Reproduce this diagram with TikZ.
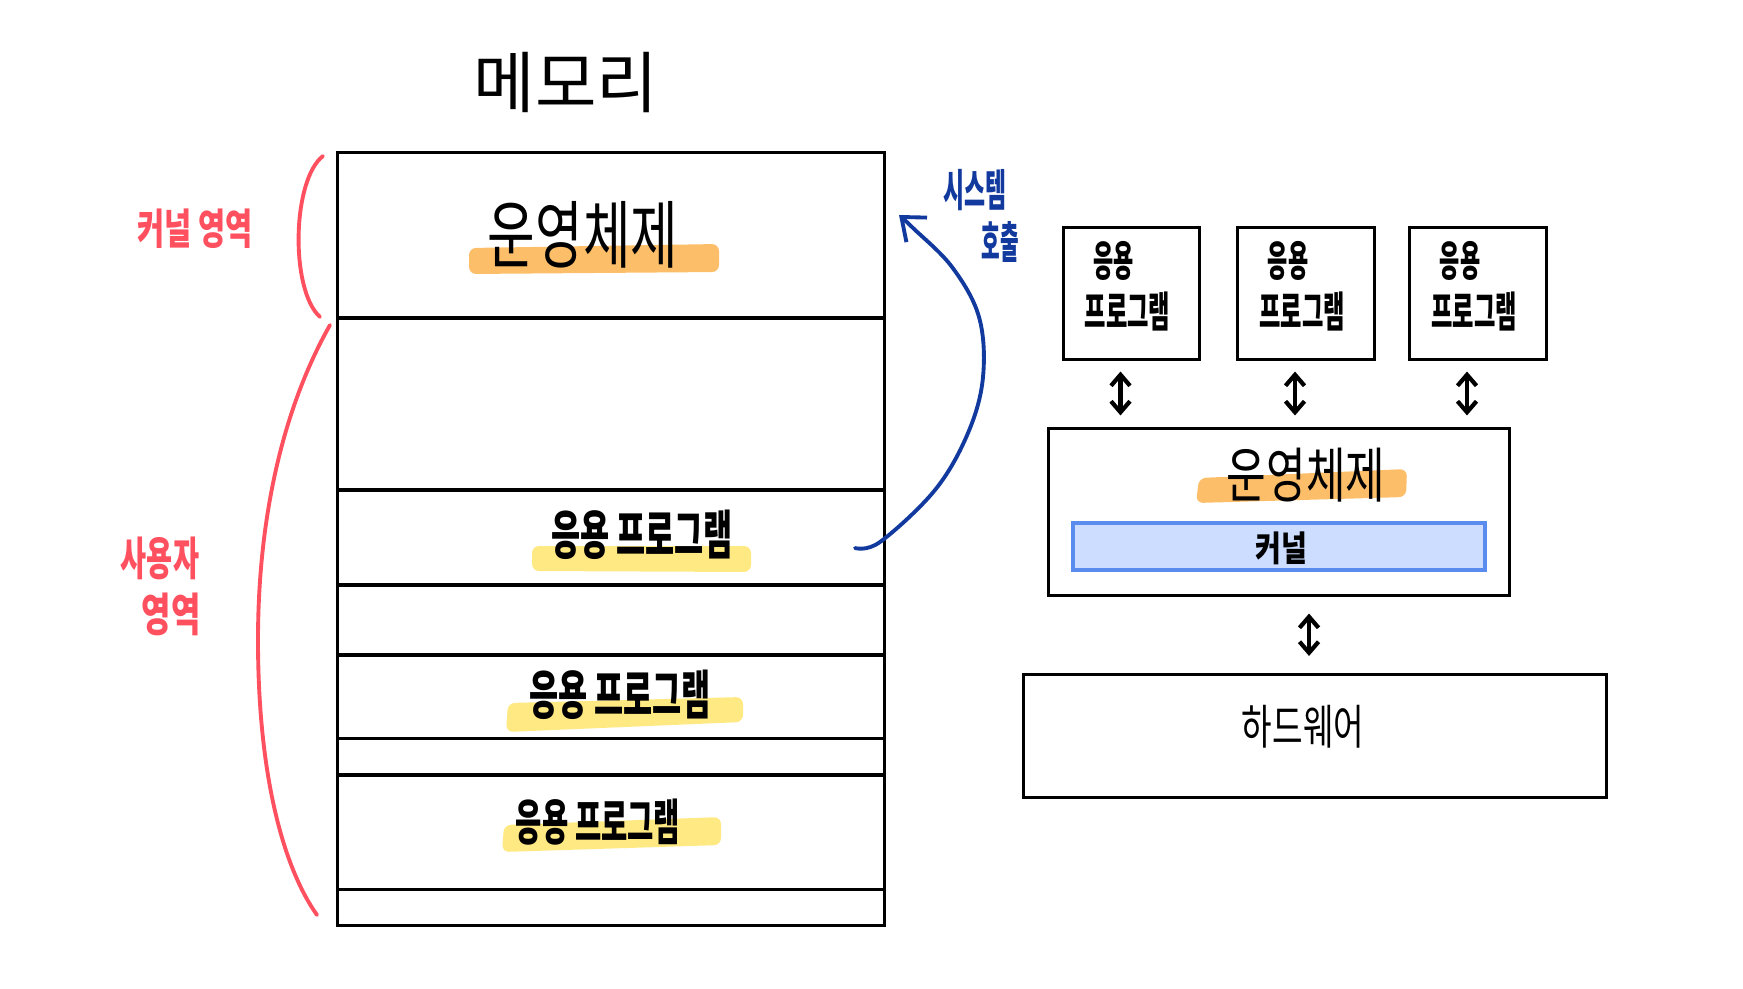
\documentclass[tikz,border=0pt]{standalone}
\usepackage{fontspec}
\newfontfamily\kr{Noto Sans CJK KR}
\usetikzlibrary{arrows.meta}
\definecolor{hlor}{RGB}{253,190,105}
\definecolor{hlye}{RGB}{255,233,130}
\definecolor{redpen}{RGB}{255,80,95}
\definecolor{bluepen}{RGB}{18,58,158}
\definecolor{kfill}{RGB}{204,221,255}
\definecolor{kline}{RGB}{90,140,240}
\newcommand\sx[2]{\scalebox{#1}[1]{#2}}
\tikzset{
  box/.style={draw, line width=0.85pt, inner sep=0, fill=none},
  txt/.style={inner sep=0},
  hl/.style={rounded corners=2pt},
  dbl/.style={line width=1.2pt, line cap=round, {Straight Barb[length=1.1mm,width=1.9mm]}-{Straight Barb[length=1.1mm,width=1.9mm]}},
  redcurve/.style={draw=redpen, line width=1.1pt, line cap=round},
}
\begin{document}
\begin{tikzpicture}[x=0.01cm,y=-0.01cm]
\useasboundingbox (0,0) rectangle (1743,988);

% title
\node[txt, font=\kr\fontsize{19pt}{22pt}\selectfont] (title) at (566,83) {메모리};

% highlights (memory)
\fill[hlor, hl] (469,248) -- (719,244) -- (719,272) -- (469,274) -- cycle;
\fill[hlye, hl] (532,546) -- (751,546) -- (751,572) -- (532,571) -- cycle;
\fill[hlye, hl] (508,703) -- (743,697) -- (743,722) -- (506,732) -- cycle;
\fill[hlye, hl] (504,825) -- (721,817) -- (721,845) -- (502,852) -- cycle;

% memory sections
\node[box, minimum width=5.46cm, minimum height=1.65cm] (s1) at (611,235.5) {};
\node[box, minimum width=5.46cm, minimum height=1.72cm] (s2) at (611,404) {};
\node[box, minimum width=5.46cm, minimum height=0.95cm] (s3) at (611,537.5) {};
\node[box, minimum width=5.46cm, minimum height=0.70cm] (s4) at (611,620) {};
\node[box, minimum width=5.46cm, minimum height=0.83cm] (s5) at (611,696.5) {};
\node[box, minimum width=5.46cm, minimum height=0.37cm] (s6) at (611,756.5) {};
\node[box, minimum width=5.46cm, minimum height=1.14cm] (s7) at (611,832) {};
\node[box, minimum width=5.46cm, minimum height=0.36cm] (s8) at (611,907) {};

\node[txt, font=\kr\fontsize{21pt}{24pt}\selectfont] (os1) at (583,235) {\sx{0.7}{운영체제}};
\node[txt, font=\kr\bfseries\fontsize{15pt}{18pt}\selectfont] (ap1) at (642,535) {\sx{0.6}{응용 프로그램}};
\node[txt, font=\kr\bfseries\fontsize{15pt}{18pt}\selectfont] (ap2) at (620,695) {\sx{0.6}{응용 프로그램}};
\node[txt, font=\kr\bfseries\fontsize{14pt}{17pt}\selectfont] (ap3) at (598,822) {\sx{0.58}{응용 프로그램}};

% red braces and labels
\draw[redcurve] (323,156) .. controls (292,180) and (290,290) .. (320,317);
\draw[redcurve] (330,325) .. controls (282,410) and (258,520) .. (258,640) .. controls (258,780) and (285,870) .. (317,915);
\node[txt, text=redpen, font=\kr\bfseries\fontsize{12pt}{14pt}\selectfont] (klab) at (195,229) {\sx{0.7}{커널 영역}};
\node[txt, text=redpen, font=\kr\bfseries\fontsize{13pt}{15pt}\selectfont] (ulab1) at (160,558) {\sx{0.62}{사용자}};
\node[txt, text=redpen, font=\kr\bfseries\fontsize{13pt}{15pt}\selectfont] (ulab2) at (171,614) {\sx{0.7}{영역}};

% system call arrow
\coordinate (callstart) at (855,548);
\coordinate (callend) at (899,215);
\draw[bluepen, line width=1.1pt, line cap=round, -{Straight Barb[length=2mm,width=3.2mm]}] plot[smooth, tension=0.6] coordinates {(callstart) (880,542) (935,490) (968,433) (983,377) (979,317) (952,267) (913,228) (callend)};
\node[txt, text=bluepen, font=\kr\bfseries\fontsize{12.5pt}{14pt}\selectfont] (sc1) at (975,190) {\sx{0.52}{시스템}};
\node[txt, text=bluepen, font=\kr\bfseries\fontsize{12.5pt}{14pt}\selectfont] (sc2) at (1000,242) {\sx{0.46}{호출}};

% application boxes
\foreach \i/\cx in {1/1131.5, 2/1306, 3/1478} {
  \node[box, minimum width=1.36cm, minimum height=1.31cm] (app\i) at (\cx,293.5) {};
  \node[txt, font=\kr\bfseries\fontsize{12pt}{14pt}\selectfont, anchor=center] (appa\i) at ([xshift=-0.18cm,yshift=0.325cm]app\i.center) {\sx{0.52}{응용}};
  \node[txt, font=\kr\bfseries\fontsize{12pt}{14pt}\selectfont, anchor=center] (appb\i) at ([xshift=-0.04cm,yshift=-0.175cm]app\i.center) {\sx{0.55}{프로그램}};
}

% OS box
\node[box, minimum width=4.60cm, minimum height=1.66cm] (os) at (1279,512) {};
\fill[hlor, hl] (1199,478) -- (1407,469) -- (1406,497) -- (1196,503) -- cycle;
\node[txt, font=\kr\fontsize{17pt}{20pt}\selectfont] (os2) at (1306,475) {\sx{0.72}{운영체제}};
\node[draw=kline, fill=kfill, line width=1pt, inner sep=0, minimum width=4.12cm, minimum height=0.47cm] (kern) at (1279,546.5) {};
\node[txt, font=\kr\bfseries\fontsize{10pt}{12pt}\selectfont] (kt) at (1281,548) {\sx{0.8}{커널}};

% hardware box
\node[box, minimum width=5.82cm, minimum height=1.23cm] (hw) at (1315,736) {};
\node[txt, font=\kr\fontsize{13.5pt}{16pt}\selectfont] (hwt) at (1303,727) {\sx{0.7}{하드웨어}};

% double arrows
\foreach \i in {1,2,3} {
  \draw[dbl, shorten <=0.11cm, shorten >=0.12cm] ([xshift=-0.11cm]app\i.south) -- ([xshift=-0.11cm]app\i.south |- os.north);
}
\draw[dbl, shorten <=0.17cm, shorten >=0.17cm] ([xshift=0.30cm]os.south) -- ([xshift=0.30cm]os.south |- hw.north);
\end{tikzpicture}
\end{document}
